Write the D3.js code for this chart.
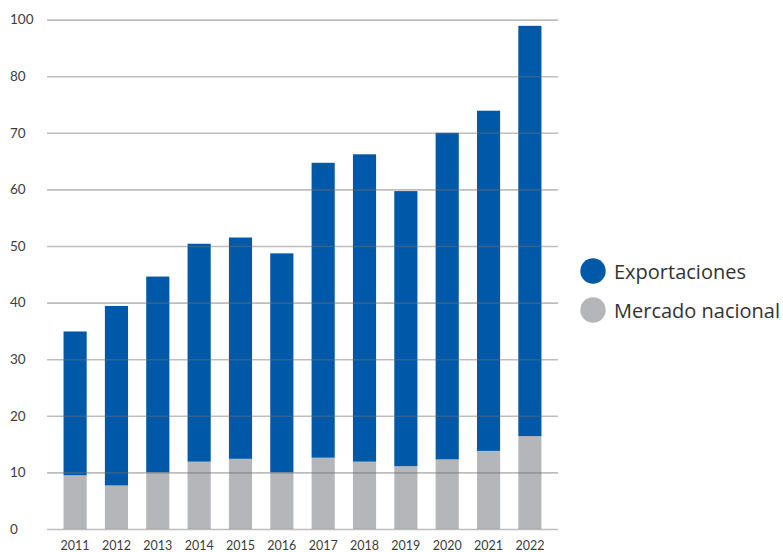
<!DOCTYPE html>
<html>
<head>
<meta charset="utf-8">
<script src="https://cdn.jsdelivr.net/npm/d3@7"></script>
<style>
  body { margin: 0; background: #fff; }
  svg { display: block; }
</style>
</head>
<body>
<div id="chart"></div>
<script>
const YEARS = ["2011","2012","2013","2014","2015","2016","2017","2018","2019","2020","2021","2022"]
const NACIONAL = [9.5, 7.7, 10.0, 11.9, 12.4, 10.0, 12.6, 11.9, 11.1, 12.3, 13.8, 16.4]
const EXPORT = [25.4, 31.7, 34.6, 38.5, 39.1, 38.7, 52.1, 54.3, 48.6, 57.7, 60.1, 72.5]
// the source skips "90" on its axis, labels kept as printed
const TICK_VALUES = [0, 10, 20, 30, 40, 50, 60, 70, 80, 90]
const TICK_LABELS = ["0", "10", "20", "30", "40", "50", "60", "70", "80", "100"]
const SERIES = ["Exportaciones", "Mercado nacional"]
const COLORS = ["#0059a8", "#b5b6b9"]

const WIDTH = 783, HEIGHT = 552

const svg = d3.select("#chart").append("svg")
    .attr("width", WIDTH)
    .attr("height", HEIGHT)

const data = YEARS.map((y, i) => ({ year: y, nacional: NACIONAL[i], export: EXPORT[i] }))

const x = d3.scaleBand()
    .domain(YEARS)
    .range([47, 558])
    .paddingInner(0.44)
    .paddingOuter(0.4)

const y = d3.scaleLinear()
    .domain([0, 90])
    .range([529, 19.6])

const stack = d3.stack().keys(["nacional", "export"])
const layers = stack(data)
const color = d3.scaleOrdinal().domain(["export", "nacional"]).range(COLORS)

svg.append("g")
    .selectAll("g")
    .data(layers)
    .join("g")
    .attr("fill", d => color(d.key))
    .selectAll("rect")
    .data(d => d)
    .join("rect")
    .attr("x", d => x(d.data.year))
    .attr("y", d => y(d[1]))
    .attr("width", x.bandwidth())
    .attr("height", d => y(d[0]) - y(d[1]))

// grid drawn over the bars, like the source
const yAxis = svg.append("g")
    .attr("transform", "translate(47,0)")
    .call(d3.axisLeft(y)
        .tickValues(TICK_VALUES)
        .tickSize(-(558 - 47))
        .tickFormat((d, i) => TICK_LABELS[i]))

yAxis.select(".domain").remove()
yAxis.selectAll(".tick line")
    .attr("stroke", "#6e6e6e")
    .attr("stroke-opacity", 0.45)
    .attr("stroke-width", 1.6)
yAxis.selectAll(".tick text")
    .attr("x", -37)
    .attr("text-anchor", "start")
    .attr("fill", "#3c3c3c")
    .style("font-family", "Lato, 'DejaVu Sans', sans-serif")
    .style("font-size", "13.5px")

const xAxis = svg.append("g")
    .attr("transform", "translate(0,529)")
    .call(d3.axisBottom(x).tickSize(0).tickPadding(12))

xAxis.select(".domain").remove()
xAxis.selectAll(".tick text")
    .attr("fill", "#3c3c3c")
    .style("font-family", "Lato, 'DejaVu Sans', sans-serif")
    .style("font-size", "12.5px")

const legend = svg.append("g")
    .attr("transform", "translate(593,271)")

const items = legend.selectAll("g")
    .data(SERIES)
    .join("g")
    .attr("transform", (d, i) => `translate(0, ${i * 39})`)

items.append("circle")
    .attr("r", 12.7)
    .attr("fill", (d, i) => COLORS[i])

items.append("text")
    .attr("x", 21)
    .attr("y", 8)
    .attr("fill", "#333")
    .style("font-family", "'Open Sans', sans-serif")
    .style("font-size", "20px")
    .text(d => d)
</script>
</body>
</html>
